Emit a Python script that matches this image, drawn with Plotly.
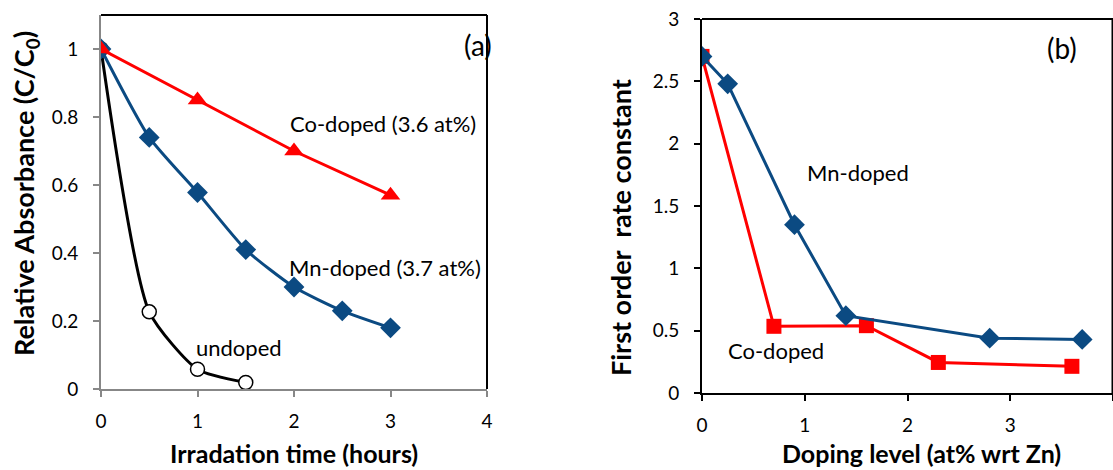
import plotly.graph_objects as go

# ---------- Panel (a) data ----------
t_undoped = [0, 0.5, 1, 1.5]
c_undoped = [1.0, 0.227, 0.058, 0.019]
t_mn = [0, 0.5, 1, 1.5, 2, 2.5, 3]
c_mn = [1.0, 0.74, 0.578, 0.41, 0.30, 0.23, 0.18]
t_co = [0, 1, 2, 3]
c_co = [1.0, 0.85, 0.70, 0.57]

# ---------- Panel (b) data ----------
dop_mn = [0, 0.25, 0.9, 1.4, 2.8, 3.7]
k_mn = [2.7, 2.48, 1.35, 0.62, 0.44, 0.43]
dop_co = [0, 0.7, 1.6, 2.3, 3.6]
k_co = [2.7, 0.535, 0.54, 0.245, 0.214]

xa_ticks = [0, 1, 2, 3, 4]
ya_ticks = [0, 0.2, 0.4, 0.6, 0.8, 1]
ya_ticklabels = ["0", "0.2", "0.4", "0.6", "0.8", "1"]
xb_ticks = [0, 1, 2, 3, 4]
yb_ticks = [0, 0.5, 1, 1.5, 2, 2.5, 3]
yb_ticklabels = ["0", "0.5", "1", "1.5", "2", "2.5", "3"]

BLUE = "#0B4A82"
RED = "#FF0000"
FONT = "Lato"

fig = go.Figure()

# Panel (a)
fig.add_trace(go.Scatter(x=t_undoped, y=c_undoped, mode="lines+markers", line=dict(color="black", width=3, shape="spline", smoothing=0.6),
                         marker=dict(symbol="circle", size=14, color="white", line=dict(color="black", width=1.5)),
                         xaxis="x", yaxis="y", showlegend=False))
fig.add_trace(go.Scatter(x=t_mn, y=c_mn, mode="lines+markers", line=dict(color=BLUE, width=3, shape="spline", smoothing=0.6),
                         marker=dict(symbol="diamond", size=16, color=BLUE),
                         xaxis="x", yaxis="y", showlegend=False))
fig.add_trace(go.Scatter(x=t_co, y=c_co, mode="lines+markers", line=dict(color=RED, width=3),
                         marker=dict(symbol="triangle-up", size=17, color=RED),
                         xaxis="x", yaxis="y", showlegend=False))

# Panel (b)
fig.add_trace(go.Scatter(x=dop_co, y=k_co, mode="lines+markers", line=dict(color=RED, width=3),
                         marker=dict(symbol="square", size=15, color=RED),
                         xaxis="x2", yaxis="y2", showlegend=False))
fig.add_trace(go.Scatter(x=dop_mn, y=k_mn, mode="lines+markers", line=dict(color=BLUE, width=3),
                         marker=dict(symbol="diamond", size=16, color=BLUE),
                         xaxis="x2", yaxis="y2", showlegend=False))

W, H = 1113, 470
# pixel layout
ax_l, ax_r, ax_t, ax_b = 101, 487, 15, 389
bx_l, bx_r, bx_t, bx_b = 702, 1113, 19, 393

tickfont = dict(family=FONT, size=19, color="black")

fig.update_layout(
    width=W, height=H,
    margin=dict(l=0, r=0, t=0, b=0, pad=0),
    paper_bgcolor="white", plot_bgcolor="white",
    xaxis=dict(domain=[ax_l / W, ax_r / W], range=[0, 4], tickvals=xa_ticks, showgrid=False, zeroline=False,
               showline=True, linecolor="#878787", linewidth=2, ticks="outside", ticklen=6, tickwidth=2,
               tickcolor="#878787", tickfont=tickfont, ticklabelstandoff=8, anchor="y", automargin=False),
    yaxis=dict(domain=[1 - ax_b / H, 1 - ax_t / H], range=[0, 1.1], tickvals=ya_ticks, ticktext=ya_ticklabels,
               showgrid=False, zeroline=False, showline=True, linecolor="#878787", linewidth=2, ticks="outside",
               ticklen=6, tickwidth=2, tickcolor="#878787", tickfont=tickfont, ticklabelstandoff=11, anchor="x",
               automargin=False),
    xaxis2=dict(domain=[bx_l / W, 1.0], range=[0, 4], tickvals=xb_ticks, showgrid=False,
                zeroline=False, showline=True, linecolor="black", linewidth=2, ticks="outside", ticklen=6,
                tickwidth=2, tickcolor="black", tickfont=tickfont, ticklabelstandoff=8, anchor="y2", automargin=False),
    yaxis2=dict(domain=[1 - bx_b / H, 1 - bx_t / H], range=[0, 3], tickvals=yb_ticks, ticktext=yb_ticklabels,
                showgrid=False, zeroline=False, showline=True, linecolor="black", linewidth=2, ticks="outside",
                ticklen=6, tickwidth=2, tickcolor="black", tickfont=tickfont, ticklabelstandoff=11, anchor="x2",
                automargin=False),
)

# frame lines (top/right of a, top/right of b)
fig.add_shape(type="line", xref="paper", yref="paper", x0=ax_l / W, x1=ax_r / W, y0=1 - ax_t / H, y1=1 - ax_t / H,
              line=dict(color="black", width=2))
fig.add_shape(type="line", xref="paper", yref="paper", x0=ax_r / W, x1=ax_r / W, y0=1 - ax_t / H, y1=1 - ax_b / H,
              line=dict(color="black", width=2))
fig.add_shape(type="line", xref="paper", yref="paper", x0=bx_l / W, x1=1.0, y0=1 - bx_t / H, y1=1 - bx_t / H,
              line=dict(color="black", width=2))
fig.add_shape(type="line", xref="paper", yref="paper", x0=1112.5 / W, x1=1112.5 / W, y0=1 - bx_t / H, y1=1 - bx_b / H,
              line=dict(color="black", width=2))

def ann(x, y, text, size=18, bold=False, angle=0, xanchor="center"):
    fig.add_annotation(x=x / W, y=1 - y / H, xref="paper", yref="paper", text=text, showarrow=False,
                       textangle=angle, xanchor=xanchor, yanchor="middle",
                       font=dict(family=FONT, size=size, color="black", weight="bold" if bold else "normal"))

ann(478, 45, "(a)", size=28)
ann(383, 123, "Co-doped (3.6 at%)", size=22)
ann(385, 267, "Mn-doped (3.7 at%)", size=22)
ann(239, 347, "undoped", size=22)
ann(1062, 48, "(b)", size=28)
ann(858, 173, "Mn-doped", size=22)
ann(776, 350, "Co-doped", size=22)

ann(294, 453, "Irradation time (hours)", size=25, bold=True)
ann(25, 194, "Relative Absorbance (C/C<sub>0</sub>)", size=27, bold=True, angle=-90)
ann(921, 453, "Doping level (at% wrt Zn)", size=25, bold=True)
ann(620, 228, "First order  rate constant", size=27, bold=True, angle=-90)

fig.write_html("out.html", config={"displayModeBar": False},
               post_script="document.body.style.margin='0';document.body.style.overflow='hidden';")
